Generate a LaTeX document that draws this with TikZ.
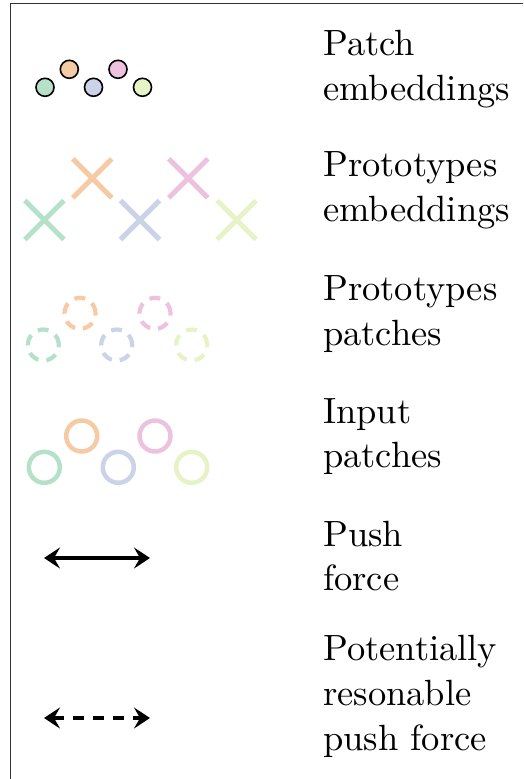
\documentclass[tikz,border=0pt]{standalone}
\usepackage{fontspec}
\setmainfont{lmroman10-regular}[Extension=.otf]
\usetikzlibrary{arrows.meta,shapes.misc}
\definecolor{pgreen}{RGB}{181,225,203}
\definecolor{porange}{RGB}{246,202,164}
\definecolor{pblue}{RGB}{203,211,233}
\definecolor{ppink}{RGB}{236,194,222}
\definecolor{pyellow}{RGB}{230,243,198}
\definecolor{framec}{RGB}{50,50,50}
\begin{document}
\begin{tikzpicture}[x=1pt,y=-1pt,
  emb/.style={circle, draw=black, line width=1.6pt, minimum size=18pt, inner sep=0pt},
  proto/.style={cross out, draw=#1, line width=5pt, minimum size=34pt, inner sep=0pt},
  ppatch/.style={circle, draw=#1, line width=4.2pt, minimum size=31pt, inner sep=0pt, dash pattern=on 11pt off 8pt},
  ipatch/.style={circle, draw=#1, line width=4.5pt, minimum size=31pt, inner sep=0pt},
  lbl/.style={anchor=base west, inner sep=0pt, font=\fontsize{36.5}{45}\selectfont},
  force/.style={line width=3.5pt, {Stealth[length=16pt,width=21pt,inset=6pt]}-{Stealth[length=16pt,width=21pt,inset=6pt]}}
]
\useasboundingbox (0,0) rectangle (523,779);
\clip (0,0) rectangle (523,779);
\draw[framec, line width=1.6pt] (10.5,3.5) rectangle (600,850);

% patch embeddings
\node[emb, fill=pgreen]  (e1) at (45,87.3) {};
\node[emb, fill=porange] (e2) at (69.3,69.3) {};
\node[emb, fill=pblue]   (e3) at (93.5,87.3) {};
\node[emb, fill=ppink]   (e4) at (118,69.3) {};
\node[emb, fill=pyellow] (e5) at (142.5,87.3) {};
\node[lbl] (t1a) at (323,55) {Patch};
\node[lbl] (t1b) at (323,100) {embeddings};

% prototypes embeddings
\node[proto=pgreen]  (p1) at (44.3,220) {};
\node[proto=porange] (p2) at (92.3,178.3) {};
\node[proto=pblue]   (p3) at (140,220) {};
\node[proto=ppink]   (p4) at (188.3,178.3) {};
\node[proto=pyellow] (p5) at (236.7,220) {};
\node[lbl] (t2a) at (323,176) {Prototypes};
\node[lbl] (t2b) at (323,221) {embeddings};

% prototypes patches
\node[ppatch=pgreen]  (q1) at (43.3,345) {};
\node[ppatch=porange] (q2) at (80,313.3) {};
\node[ppatch=pblue]   (q3) at (116.7,345) {};
\node[ppatch=ppink]   (q4) at (155,313.3) {};
\node[ppatch=pyellow] (q5) at (191.7,345) {};
\node[lbl] (t3a) at (323,300) {Prototypes};
\node[lbl] (t3b) at (323,345) {patches};

% input patches
\node[ipatch=pgreen]  (i1) at (44.3,467.3) {};
\node[ipatch=porange] (i2) at (81.7,436) {};
\node[ipatch=pblue]   (i3) at (118.3,467.3) {};
\node[ipatch=ppink]   (i4) at (155,436) {};
\node[ipatch=pyellow] (i5) at (191.7,467.3) {};
\node[lbl] (t4a) at (323,423) {Input};
\node[lbl] (t4b) at (323,467) {patches};

% push force
\coordinate (f1) at (44,558);
\coordinate (f2) at (150,558);
\draw[force] (f1) -- (f2);
\node[lbl] (t5a) at (323,546) {Push};
\node[lbl] (t5b) at (323,590) {force};

% potentially reasonable push force
\coordinate (g1) at (44,718);
\coordinate (g2) at (150,718);
\draw[force, dash pattern=on 11pt off 9pt] (g1) -- (g2);
\node[lbl] (t6a) at (323,660) {Potentially};
\node[lbl] (t6b) at (323,705) {resonable};
\node[lbl] (t6c) at (323,750) {push force};
\end{tikzpicture}
\end{document}
